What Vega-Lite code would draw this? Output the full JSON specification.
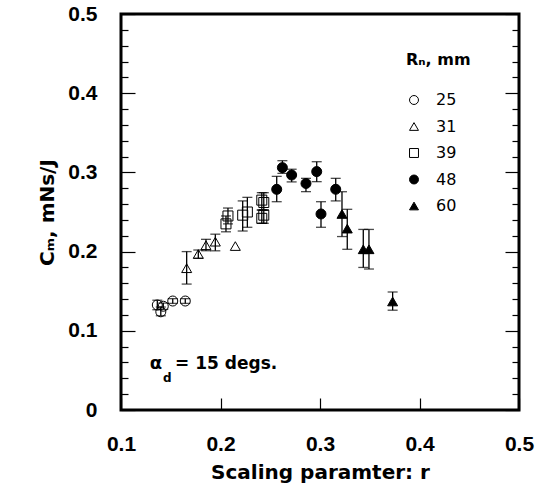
{
  "$schema": "https://vega.github.io/schema/vega-lite/v6.json",
  "autosize": {"type": "none"},
  "padding": {"left": 121, "top": 14, "right": 28, "bottom": 82},
  "width": 398,
  "height": 396,
  "background": "white",
  "config": {
    "view": {"stroke": "black", "strokeWidth": 3},
    "axis": {"domain": false, "grid": false, "tickColor": "black", "tickWidth": 1.2, "labelColor": "black", "titleColor": "black", "labelFlush": false}
  },
  "data": {"values": [
    {"r": 0.1365, "cm": 0.1326, "lo": 0.1266, "hi": 0.1386, "Rn": "25"},
    {"r": 0.1400, "cm": 0.1240, "lo": 0.1190, "hi": 0.1300, "Rn": "25"},
    {"r": 0.1425, "cm": 0.1310, "lo": 0.1270, "hi": 0.1350, "Rn": "25"},
    {"r": 0.1520, "cm": 0.1376, "lo": 0.1346, "hi": 0.1406, "Rn": "25"},
    {"r": 0.1646, "cm": 0.1376, "lo": 0.1346, "hi": 0.1406, "Rn": "25"},
    {"r": 0.1660, "cm": 0.1790, "lo": 0.1590, "hi": 0.2000, "Rn": "31"},
    {"r": 0.1777, "cm": 0.1970, "lo": 0.1915, "hi": 0.2020, "Rn": "31"},
    {"r": 0.1854, "cm": 0.2080, "lo": 0.2011, "hi": 0.2155, "Rn": "31"},
    {"r": 0.1948, "cm": 0.2125, "lo": 0.2010, "hi": 0.2220, "Rn": "31"},
    {"r": 0.2149, "cm": 0.2070, "lo": null, "hi": null, "Rn": "31"},
    {"r": 0.2055, "cm": 0.2350, "lo": 0.2250, "hi": 0.2450, "Rn": "39"},
    {"r": 0.2075, "cm": 0.2450, "lo": 0.2350, "hi": 0.2550, "Rn": "39"},
    {"r": 0.2223, "cm": 0.2460, "lo": 0.2260, "hi": 0.2640, "Rn": "39"},
    {"r": 0.2270, "cm": 0.2500, "lo": 0.2307, "hi": 0.2685, "Rn": "39"},
    {"r": 0.2415, "cm": 0.2650, "lo": 0.2525, "hi": 0.2744, "Rn": "39"},
    {"r": 0.2435, "cm": 0.2620, "lo": 0.2525, "hi": 0.2744, "Rn": "39"},
    {"r": 0.2415, "cm": 0.2420, "lo": 0.2357, "hi": 0.2525, "Rn": "39"},
    {"r": 0.2435, "cm": 0.2460, "lo": 0.2357, "hi": 0.2525, "Rn": "39"},
    {"r": 0.2565, "cm": 0.2786, "lo": 0.2630, "hi": 0.2950, "Rn": "48"},
    {"r": 0.2622, "cm": 0.3060, "lo": 0.2988, "hi": 0.3148, "Rn": "48"},
    {"r": 0.2715, "cm": 0.2967, "lo": 0.2880, "hi": 0.3040, "Rn": "48"},
    {"r": 0.2859, "cm": 0.2860, "lo": 0.2757, "hi": 0.2925, "Rn": "48"},
    {"r": 0.2967, "cm": 0.3010, "lo": 0.2883, "hi": 0.3135, "Rn": "48"},
    {"r": 0.3010, "cm": 0.2475, "lo": 0.2307, "hi": 0.2630, "Rn": "48"},
    {"r": 0.3158, "cm": 0.2787, "lo": 0.2640, "hi": 0.2925, "Rn": "48"},
    {"r": 0.3221, "cm": 0.2475, "lo": 0.2190, "hi": 0.2756, "Rn": "60"},
    {"r": 0.3274, "cm": 0.2290, "lo": 0.2029, "hi": 0.2534, "Rn": "60"},
    {"r": 0.3435, "cm": 0.2029, "lo": 0.1800, "hi": 0.2280, "Rn": "60"},
    {"r": 0.3492, "cm": 0.2029, "lo": 0.1780, "hi": 0.2280, "Rn": "60"},
    {"r": 0.3730, "cm": 0.1370, "lo": 0.1260, "hi": 0.1490, "Rn": "60"}
  ]},
  "layer": [
    {
      "transform": [{"filter": "datum.hi != null"}],
      "mark": {"type": "rule", "color": "black", "strokeWidth": 1.3},
      "encoding": {
        "x": {
          "field": "r", "type": "quantitative",
          "scale": {"domain": [0.1, 0.5], "nice": false, "zero": false},
          "axis": {
            "values": [0.1, 0.2, 0.3, 0.4, 0.5],
            "format": ".1f",
            "tickSize": -12,
            "labelPadding": 35,
            "labelFont": "Liberation Sans", "labelFontWeight": "bold", "labelFontSize": 21,
            "title": "Scaling paramter: r",
            "titleFont": "DejaVu Sans", "titleFontWeight": "bold", "titleFontSize": 20,
            "titlePadding": 8
          }
        },
        "y": {
          "field": "lo", "type": "quantitative",
          "scale": {"domain": [0, 0.5], "nice": false},
          "axis": {
            "orient": "right",
            "values": [0, 0.02, 0.04, 0.06, 0.08, 0.1, 0.12, 0.14, 0.16, 0.18, 0.2, 0.22, 0.24, 0.26, 0.28, 0.3, 0.32, 0.34, 0.36, 0.38, 0.4, 0.42, 0.44, 0.46, 0.48, 0.5],
            "labels": false,
            "title": null,
            "tickSize": {"condition": {"test": "abs(datum.value*10 - round(datum.value*10)) < 0.001", "value": -14}, "value": -7}
          }
        },
        "y2": {"field": "hi"}
      }
    },
    {
      "transform": [{"filter": "datum.hi != null"}],
      "mark": {"type": "tick", "orient": "horizontal", "color": "black", "size": 10, "thickness": 1.3},
      "encoding": {
        "x": {"field": "r", "type": "quantitative"},
        "y": {"field": "hi", "type": "quantitative", "scale": {"domain": [0, 0.5], "nice": false}, "axis": null}
      }
    },
    {
      "transform": [{"filter": "datum.hi != null"}],
      "mark": {"type": "tick", "orient": "horizontal", "color": "black", "size": 10, "thickness": 1.3},
      "encoding": {
        "x": {"field": "r", "type": "quantitative"},
        "y": {"field": "lo", "type": "quantitative", "scale": {"domain": [0, 0.5], "nice": false}, "axis": null}
      }
    },
    {
      "mark": {"type": "point", "filled": true, "strokeWidth": 1, "size": 100, "opacity": 1},
      "encoding": {
        "x": {"field": "r", "type": "quantitative"},
        "y": {
          "field": "cm", "type": "quantitative",
          "scale": {"domain": [0, 0.5], "nice": false},
          "axis": {
            "orient": "left",
            "values": [0, 0.02, 0.04, 0.06, 0.08, 0.1, 0.12, 0.14, 0.16, 0.18, 0.2, 0.22, 0.24, 0.26, 0.28, 0.3, 0.32, 0.34, 0.36, 0.38, 0.4, 0.42, 0.44, 0.46, 0.48, 0.5],
            "labelExpr": "abs(datum.value*10 - round(datum.value*10)) < 0.001 ? format(datum.value, '.1~f') : ''",
            "tickSize": {"condition": {"test": "abs(datum.value*10 - round(datum.value*10)) < 0.001", "value": -14}, "value": -7},
            "labelPadding": 38,
            "labelFont": "Liberation Sans", "labelFontWeight": "bold", "labelFontSize": 21,
            "title": "Cₘ, mNs/J",
            "titleFont": "DejaVu Sans", "titleFontWeight": "bold", "titleFontSize": 20,
            "titlePadding": 10
          }
        },
        "shape": {
          "field": "Rn", "type": "nominal",
          "scale": {"domain": ["25", "31", "39", "48", "60"], "range": ["circle", "triangle-up", "square", "circle", "triangle-up"]},
          "legend": {
            "title": "Rₙ, mm",
            "orient": "none", "legendX": 285, "legendY": 38,
            "titleFont": "DejaVu Sans", "titleFontWeight": "bold", "titleFontSize": 16, "titleColor": "black",
            "titlePadding": 24,
            "labelFont": "DejaVu Sans", "labelFontSize": 16, "labelColor": "black",
            "symbolSize": 80, "symbolStrokeWidth": 1,
            "rowPadding": 10.5, "labelOffset": 14
          }
        },
        "fill": {
          "field": "Rn", "type": "nominal",
          "scale": {"domain": ["25", "31", "39", "48", "60"], "range": ["transparent", "transparent", "transparent", "black", "black"]},
          "legend": {"title": "Rₙ, mm"}
        },
        "stroke": {
          "field": "Rn", "type": "nominal",
          "scale": {"domain": ["25", "31", "39", "48", "60"], "range": ["black", "black", "black", "black", "black"]},
          "legend": {"title": "Rₙ, mm"}
        }
      }
    },
    {
      "data": {"values": [{"label": "α"}]},
      "mark": {"type": "text", "font": "DejaVu Sans", "fontWeight": "bold", "fontSize": 18, "align": "left", "baseline": "alphabetic", "fill": "black"},
      "encoding": {
        "x": {"datum": 0.129, "type": "quantitative"},
        "y": {"datum": 0.0518, "type": "quantitative", "scale": {"domain": [0, 0.5], "nice": false}, "axis": null},
        "text": {"field": "label"}
      }
    },
    {
      "data": {"values": [{"label": "d"}]},
      "mark": {"type": "text", "font": "DejaVu Sans", "fontWeight": "bold", "fontSize": 12, "align": "left", "baseline": "alphabetic", "fill": "black"},
      "encoding": {
        "x": {"datum": 0.1422, "type": "quantitative"},
        "y": {"datum": 0.0354, "type": "quantitative", "scale": {"domain": [0, 0.5], "nice": false}, "axis": null},
        "text": {"field": "label"}
      }
    },
    {
      "data": {"values": [{"label": "= 15 degs."}]},
      "mark": {"type": "text", "font": "DejaVu Sans", "fontWeight": "bold", "fontSize": 17, "align": "left", "baseline": "alphabetic", "fill": "black"},
      "encoding": {
        "x": {"datum": 0.1543, "type": "quantitative"},
        "y": {"datum": 0.0518, "type": "quantitative", "scale": {"domain": [0, 0.5], "nice": false}, "axis": null},
        "text": {"field": "label"}
      }
    }
  ],
  "resolve": {"axis": {"y": "independent"}}
}
